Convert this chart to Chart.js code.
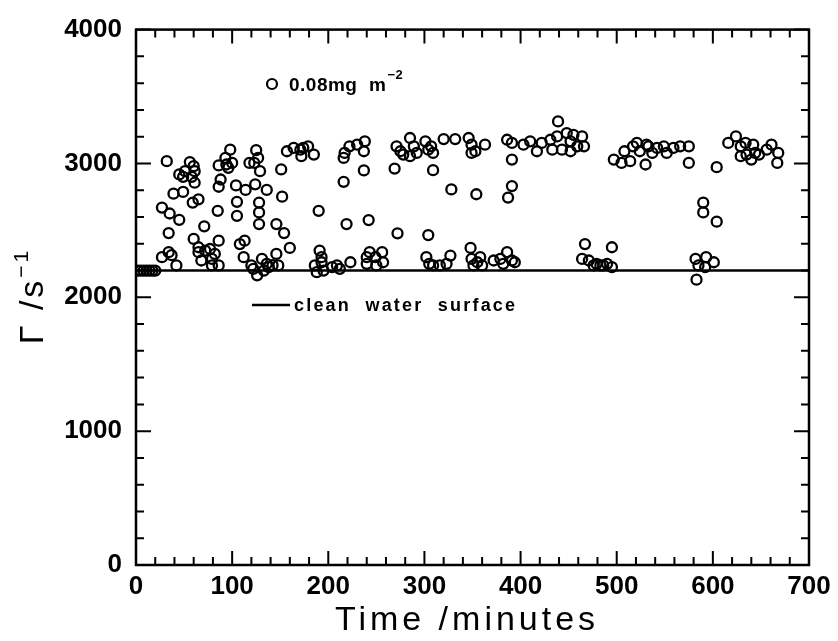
<!DOCTYPE html>
<html>
<head>
<meta charset="utf-8">
<script src="https://cdn.jsdelivr.net/npm/chart.js@4.4.0/dist/chart.umd.min.js"></script>
<style>
  html, body { margin: 0; padding: 0; background: #fff; }
  #wrap { width: 838px; height: 641px; }
</style>
</head>
<body>
<div id="wrap"><canvas id="chart" width="838" height="641"></canvas></div>
<script>
// surface elasticity readings, 0.08 mg m^-2 film
const timeMin = [
  2, 5, 8, 11, 14, 17, 20,
  32, 27, 34, 37, 42, 27, 35, 45, 34, 39, 49, 45, 51, 56, 60, 61, 58, 61, 49, 59, 65, 71, 60, 65,
  65, 72, 68, 77, 79, 79, 86, 86, 82, 85, 86, 88, 86, 93, 98, 94, 100, 96, 104, 105, 105, 114,
  108, 113, 112, 118, 125, 127, 123, 129, 124, 128, 128, 128, 136, 120, 126, 131, 133, 136, 122,
  138, 142, 146, 154, 152, 151, 146, 160, 148, 157, 164, 171, 174, 172,
  179, 185, 190, 191, 186, 193, 188, 195, 204, 209, 212, 223, 193, 216, 217, 222, 230, 238, 237,
  216, 219, 237, 242, 240, 243, 249, 256, 257, 250, 240, 269, 272, 271, 275, 278, 285, 289, 285,
  292, 301, 304, 307, 309, 309, 304, 302, 305, 309, 316, 323, 327, 320, 332, 346, 349, 349, 328,
  354, 348, 349, 351,
  353, 363, 355, 358, 360, 372, 379, 386, 391, 394, 382, 391, 387, 386, 391, 391, 403, 410, 417,
  422, 431, 433, 438, 439, 448, 452, 455, 459, 464, 466, 443, 452, 467, 495, 464, 471, 476, 483,
  490, 495, 479, 486, 497, 505, 508, 514, 517, 521, 524, 530, 533,
  531, 537, 542, 549, 552, 559, 566, 575, 575, 604, 590, 590, 604, 582, 585, 593, 601, 592, 583,
  616, 624, 629, 634, 642, 644, 635, 629, 640, 656, 661, 668, 667, 648
];
const gamma = [
  2200, 2200, 2200, 2200, 2200, 2200, 2200,
  3017, 2300, 2337, 2315, 2238, 2670, 2626, 2579, 2480, 2774, 2787, 2918, 2942, 3010, 2980, 2942, 2900, 2856, 2900, 2708, 2732, 2530, 2436, 2374,
  2337, 2349, 2275, 2361, 2287, 2238, 2423, 2238, 2324, 2646, 2826, 2880, 2985, 3041, 3103, 2992, 3004, 2967, 2836, 2713, 2609, 2802,
  2398, 2423, 2300, 3004, 3099, 3041, 3004, 2942, 2844, 2708, 2634, 2547, 2802, 2238, 2164, 2287, 2200, 2250, 2213,
  2225, 2240, 2547, 2480, 2752, 2955, 2324, 2369, 2238, 3091, 3116, 3103, 3116, 3054,
  3128, 3066, 2646, 2349, 2238, 2262, 2188, 2200, 2225, 2238, 2213, 2262, 2300, 3041, 3079, 3128, 3140, 3165, 3091,
  2863, 2547, 2948, 2577, 2300, 2337, 2300, 2337, 2262, 2238, 2250, 2962, 2478, 3128, 3091, 3066, 3190, 3128, 3054,
  3079, 3165, 3103, 3128, 3079, 2950, 2465, 2300, 2250, 2238, 2238, 2250, 2312, 3182, 3182, 3190, 3140, 3079, 2806,
  2770, 2369, 2287, 2238,
  3091, 3140, 2262, 2300, 2238, 2275, 2287, 2337, 2275, 2262, 2250, 2831, 2745, 3177, 3153, 3029, 3140, 3165, 3091,
  3153, 3177, 3103, 3202, 3314, 3227, 3165, 3214, 3128, 3202, 3128, 3103, 3091, 2398, 2374, 2287, 2275, 2238, 2238,
  2250, 2225, 2250, 2238, 3029, 3004, 3091, 3017, 3128, 3153, 3091, 2992, 3128,
  3140, 3079, 3116, 3128, 3079, 3116, 3128, 3128, 3004, 2972, 2708, 2634, 2565, 2287, 2238, 2300, 2262, 2225, 2132,
  3153, 3202, 3128, 3153, 3140, 3079, 3066, 3054, 3029, 3103, 3140, 3079, 3004, 3066
];
const cleanTime = [0, 700];
const cleanGamma = [2200, 2200];

const xTicks = [0, 100, 200, 300, 400, 500, 600, 700];
const yTicks = [0, 1000, 2000, 3000, 4000];
const xMinor = 20, yMinor = 200;

const FONT = "'Liberation Sans', Arial, sans-serif";

// frame with inward ticks on all four sides, titles and the in-plot legend
const framePlugin = {
  id: 'frame',
  afterDraw(chart) {
    const ctx = chart.ctx, a = chart.chartArea;
    const x = chart.scales.x, y = chart.scales.y;
    ctx.save();
    ctx.strokeStyle = '#000';
    ctx.lineWidth = 2.5;
    ctx.strokeRect(a.left, a.top, a.right - a.left, a.bottom - a.top);

    ctx.lineWidth = 2;
    ctx.beginPath();
    for (let v = x.min; v <= x.max; v += xMinor) {
      const px = x.getPixelForValue(v);
      const len = v % 100 === 0 ? 14 : 8;
      ctx.moveTo(px, a.bottom); ctx.lineTo(px, a.bottom - len);
      ctx.moveTo(px, a.top); ctx.lineTo(px, a.top + len);
    }
    for (let v = y.min; v <= y.max; v += yMinor) {
      const py = y.getPixelForValue(v);
      const len = v % 1000 === 0 ? 15 : 8;
      ctx.moveTo(a.left, py); ctx.lineTo(a.left + len, py);
      ctx.moveTo(a.right, py); ctx.lineTo(a.right - len, py);
    }
    ctx.stroke();

    ctx.fillStyle = '#000';
    ctx.textBaseline = 'alphabetic';

    // x title
    ctx.font = '34px ' + FONT;
    ctx.letterSpacing = '4px';
    ctx.textAlign = 'center';
    ctx.fillText('Time /minutes', 467, 630);

    // y title, rotated
    ctx.save();
    ctx.translate(43, 296);
    ctx.rotate(-Math.PI / 2);
    ctx.letterSpacing = '3px';
    ctx.font = '34px ' + FONT;
    ctx.textAlign = 'left';
    const main = '\u0393 /s';
    const wMain = ctx.measureText(main).width;
    ctx.font = '21px ' + FONT;
    const wSup = ctx.measureText('\u22121').width;
    const start = -(wMain + wSup) / 2;
    ctx.font = '34px ' + FONT;
    ctx.fillText(main, start, 0);
    ctx.font = '21px ' + FONT;
    ctx.fillText('\u22121', start + wMain, -15);
    ctx.restore();

    // legend: circle marker
    ctx.letterSpacing = '0.5px';
    ctx.lineWidth = 2.2;
    ctx.beginPath();
    ctx.arc(272, 84, 5, 0, Math.PI * 2);
    ctx.stroke();
    ctx.textAlign = 'left';
    ctx.font = 'bold 19px ' + FONT;
    ctx.fillText('0.08mg  m', 289, 91);
    const wl = ctx.measureText('0.08mg  m').width;
    ctx.font = 'bold 13px ' + FONT;
    ctx.fillText('\u22122', 289 + wl + 1, 79);

    // legend: clean water line
    ctx.lineWidth = 2.5;
    ctx.beginPath();
    ctx.moveTo(252, 305); ctx.lineTo(290, 305);
    ctx.stroke();
    ctx.font = 'bold 18px ' + FONT;
    ctx.letterSpacing = '2.2px';
    ctx.fillText('clean  water  surface', 294, 311);
    ctx.restore();
  }
};

const points = timeMin.map((t, i) => ({ x: t, y: gamma[i] }));
const cleanLine = cleanTime.map((t, i) => ({ x: t, y: cleanGamma[i] }));

new Chart(document.getElementById('chart'), {
  type: 'scatter',
  data: {
    datasets: [
      {
        data: points,
        pointStyle: 'circle',
        pointRadius: 5,
        pointBorderWidth: 2.3,
        pointBorderColor: '#000',
        pointBackgroundColor: 'rgba(0,0,0,0)',
        showLine: false
      },
      {
        type: 'line',
        data: cleanLine,
        borderColor: '#000',
        borderWidth: 2.5,
        pointRadius: 0,
        fill: false
      }
    ]
  },
  options: {
    responsive: false,
    animation: false,
    devicePixelRatio: 1,
    layout: { padding: { left: 0, right: 29, top: 26, bottom: 0 } },
    plugins: { legend: { display: false }, tooltip: { enabled: false } },
    scales: {
      x: {
        type: 'linear',
        min: 0, max: 700,
        afterBuildTicks: s => { s.ticks = xTicks.map(v => ({ value: v })); },
        afterFit: s => { s.height = 76; },
        grid: { display: false, drawTicks: false },
        border: { display: false },
        ticks: { color: '#000', padding: 6, font: { family: FONT, size: 26, weight: 'bold' },
                 callback: v => String(v) }
      },
      y: {
        type: 'linear',
        min: 0, max: 4000,
        afterBuildTicks: s => { s.ticks = yTicks.map(v => ({ value: v })); },
        afterFit: s => { s.width = 136; },
        grid: { display: false, drawTicks: false },
        border: { display: false },
        ticks: { color: '#000', padding: 14, font: { family: FONT, size: 26, weight: 'bold' },
                 callback: v => String(v) }
      }
    }
  },
  plugins: [framePlugin]
});
</script>
</body>
</html>
